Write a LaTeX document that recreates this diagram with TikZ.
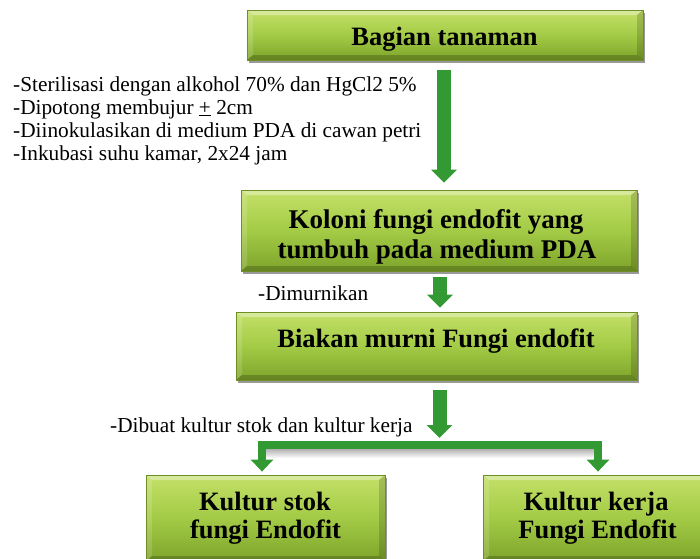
\documentclass[tikz,border=0pt]{standalone}
\usepackage{fontspec}
\setmainfont{Liberation Serif}
\usetikzlibrary{arrows.meta,shadows}
\definecolor{arrowgreen}{RGB}{51,153,51}
\definecolor{boxtop}{RGB}{196,224,104}
\definecolor{boxmid}{RGB}{163,203,70}
\definecolor{boxbot}{RGB}{126,164,42}
\definecolor{boxedge}{RGB}{112,142,40}
\begin{document}
\begin{tikzpicture}[x=1pt,y=-1pt,
 gbox/.style={rectangle, draw=boxedge, line width=0.8pt, top color=boxtop, bottom color=boxbot, middle color=boxmid, inner sep=0pt,
   drop shadow={shadow xshift=2pt, shadow yshift=-3pt, opacity=0.4, fill=black},
   path picture={
     \coordinate (nw) at (path picture bounding box.north west);
     \coordinate (ne) at (path picture bounding box.north east);
     \coordinate (sw) at (path picture bounding box.south west);
     \coordinate (se) at (path picture bounding box.south east);
     \fill[white,opacity=0.35] (nw) -- (ne) -- ([xshift=-6pt,yshift=-5pt]ne) -- ([xshift=6pt,yshift=-5pt]nw) -- cycle;
     \fill[white,opacity=0.15] (nw) -- ([xshift=6pt,yshift=-5pt]nw) -- ([xshift=6pt,yshift=5pt]sw) -- (sw) -- cycle;
     \fill[black,opacity=0.15] (ne) -- (se) -- ([xshift=-6pt,yshift=5pt]se) -- ([xshift=-6pt,yshift=-5pt]ne) -- cycle;
     \fill[black,opacity=0.2] (sw) -- (se) -- ([xshift=-6pt,yshift=5pt]se) -- ([xshift=6pt,yshift=5pt]sw) -- cycle;
   }},
 boxtext/.style={font=\fontsize{26.5}{30}\selectfont\bfseries, anchor=base, inner sep=0pt},
 note/.style={font=\fontsize{21.3}{23}\selectfont, anchor=base west, inner sep=0pt},
 bigarrow/.style={draw=arrowgreen, line width=14pt, -{Triangle[width=25pt,length=13pt]}},
 brack/.style={draw=arrowgreen, line width=8pt, line join=miter, {Triangle[width=22pt,length=12pt]}-{Triangle[width=22pt,length=12pt]}}
]
\useasboundingbox (0,0) rectangle (700,558);
\fill[white] (0,0) rectangle (700,558);

% boxes
\node[gbox, minimum width=396pt, minimum height=50pt] (b1) at (445,35) {};
\node[gbox, minimum width=396pt, minimum height=81pt] (b2) at (439,230.5) {};
\node[gbox, minimum width=401pt, minimum height=68pt] (b3) at (436.5,346) {};
\node[gbox, minimum width=239pt, minimum height=86pt] (b4) at (265.5,518) {};
\node[gbox, minimum width=227pt, minimum height=86pt] (b5) at (596.5,518) {};

% box texts
\node[boxtext] (t1) at (444.5,45) {Bagian tanaman};
\node[boxtext, font=\fontsize{27}{30}\selectfont\bfseries] (t2a) at (436,228) {Koloni fungi endofit yang};
\node[boxtext, font=\fontsize{27}{30}\selectfont\bfseries] (t2b) at (437,258) {tumbuh pada medium PDA};
\node[boxtext] (t3) at (436,347) {Biakan murni Fungi endofit};
\node[boxtext] (t4a) at (265,510) {Kultur stok};
\node[boxtext] (t4b) at (265.5,538) {fungi Endofit};
\node[boxtext] (t5a) at (596,510) {Kultur kerja};
\node[boxtext] (t5b) at (597.5,538) {Fungi Endofit};

% notes
\node[note] (n1) at (13,91) {-Sterilisasi dengan alkohol 70\% dan HgCl2 5\%};
\node[note] (n2) at (13,114) {-Dipotong membujur \underline{+} 2cm};
\node[note] (n3) at (13,137) {-Diinokulasikan di medium PDA di cawan petri};
\node[note] (n4) at (13,160) {-Inkubasi suhu kamar, 2x24 jam};
\node[note] (n5) at (258,300) {-Dimurnikan};
\node[note] (n6) at (110,432) {-Dibuat kultur stok dan kultur kerja};

% arrows
\draw[bigarrow] ([xshift=-1pt,yshift=-10pt]b1.south) -- ([xshift=-1pt,yshift=7pt]b1.south |- b2.north);
\draw[bigarrow] ([xshift=1pt,yshift=-6pt]b2.south) -- ([xshift=1pt,yshift=4pt]b2.south |- b3.north);
\coordinate (barmid) at (439.5,445);
\draw[bigarrow] ([xshift=3pt,yshift=-10pt]b3.south) -- ([yshift=7pt]barmid);

% bracket with shadow
\fill[top color=gray!60, bottom color=white] (266,449) rectangle (594,458);
\draw[brack] ([xshift=-3.5pt,yshift=3pt]b4.north) |- (barmid) -| ([xshift=1.5pt,yshift=3pt]b5.north);
\end{tikzpicture}
\end{document}
